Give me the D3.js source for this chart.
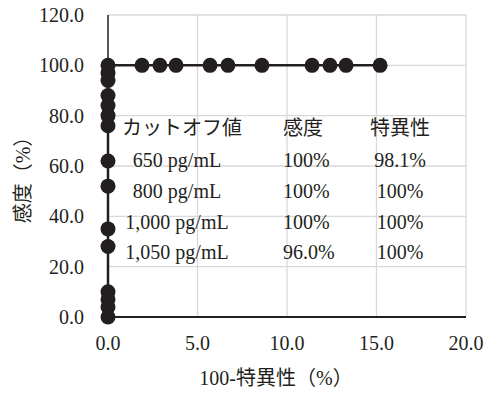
<!DOCTYPE html>
<html>
<head>
<meta charset="utf-8">
<script src="https://cdn.jsdelivr.net/npm/d3@7"></script>
<style>
  body { margin: 0; background: #fff; }
  svg text { font-family: "Liberation Serif", "Noto Sans CJK JP", serif; fill: #231f20; }
</style>
</head>
<body>
<svg id="chart" width="486" height="394"></svg>
<script>
// ROC curve points (100-specificity, sensitivity)
const fprValues = [0, 0, 0, 0, 0, 0, 0, 0, 0, 0, 0, 0, 0, 0, 0,
  1.9, 2.9, 3.8, 5.7, 6.7, 8.6, 11.4, 12.4, 13.3, 15.2];
const sensValues = [0, 4, 7, 10, 28, 35, 52, 62, 76, 80, 84, 88, 94, 97, 100,
  100, 100, 100, 100, 100, 100, 100, 100, 100, 100];

const xTicks = [0, 5, 10, 15, 20];
const yTicks = [0, 20, 40, 60, 80, 100, 120];

// table inside the plot
const tableHeader = ["カットオフ値", "感度", "特異性"];
const cutoffs = ["650 pg/mL", "800 pg/mL", "1,000 pg/mL", "1,050 pg/mL"];
const sensLabels = ["100%", "100%", "100%", "96.0%"];
const specLabels = ["98.1%", "100%", "100%", "100%"];

const svg = d3.select("#chart"),
  ink = "#231f20",
  grid = "#d9d9d9";

const x = d3.scaleLinear().domain([0, 20]).range([108, 466]);
const y = d3.scaleLinear().domain([0, 120]).range([317, 15]);

// gridlines
svg.append("g")
  .selectAll("line.h")
  .data(yTicks.filter((d) => d > 0))
  .enter()
  .append("line")
  .attr("x1", x(0))
  .attr("x2", x(20))
  .attr("y1", (d) => y(d))
  .attr("y2", (d) => y(d))
  .attr("stroke", grid)
  .attr("stroke-width", 1.3);

svg.append("g")
  .selectAll("line.v")
  .data(xTicks.filter((d) => d > 0))
  .enter()
  .append("line")
  .attr("x1", (d) => x(d))
  .attr("x2", (d) => x(d))
  .attr("y1", y(0))
  .attr("y2", y(120))
  .attr("stroke", grid)
  .attr("stroke-width", 1.3);

// axes lines
svg.append("line")
  .attr("x1", x(0)).attr("x2", x(20))
  .attr("y1", y(0)).attr("y2", y(0))
  .attr("stroke", ink).attr("stroke-width", 2);
svg.append("line")
  .attr("x1", x(0)).attr("x2", x(0))
  .attr("y1", y(0)).attr("y2", y(120))
  .attr("stroke", ink).attr("stroke-width", 1.5);

// tick labels
svg.append("g")
  .selectAll("text")
  .data(yTicks)
  .enter()
  .append("text")
  .attr("x", 84)
  .attr("y", (d) => y(d))
  .attr("dy", "0.35em")
  .attr("text-anchor", "end")
  .style("font-size", "20px")
  .text((d) => d.toFixed(1));

svg.append("g")
  .selectAll("text")
  .data(xTicks)
  .enter()
  .append("text")
  .attr("x", (d) => x(d))
  .attr("y", 350)
  .attr("text-anchor", "middle")
  .style("font-size", "20px")
  .text((d) => d.toFixed(1));

// axis titles
svg.append("text")
  .attr("x", 276)
  .attr("y", 385)
  .attr("text-anchor", "middle")
  .style("font-size", "20px")
  .text("100-特異性（%）");

svg.append("text")
  .attr("transform", "translate(30,175) rotate(-90)")
  .attr("text-anchor", "middle")
  .style("font-size", "20px")
  .text("感度（%）");

// table text
const rowY = [128, 160, 191, 222, 252];
const tbl = svg.append("g").style("font-size", "20px");
tbl.append("text").attr("x", 122).attr("y", rowY[0]).attr("dy", "0.35em").text(tableHeader[0]);
tbl.append("text").attr("x", 283).attr("y", rowY[0]).attr("dy", "0.35em").text(tableHeader[1]);
tbl.append("text").attr("x", 370).attr("y", rowY[0]).attr("dy", "0.35em").text(tableHeader[2]);

tbl.selectAll("text.cut")
  .data(cutoffs)
  .enter()
  .append("text")
  .attr("x", 177)
  .attr("y", (d, i) => rowY[i + 1])
  .attr("dy", "0.35em")
  .attr("text-anchor", "middle")
  .text((d) => d);
tbl.selectAll("text.sens")
  .data(sensLabels)
  .enter()
  .append("text")
  .attr("x", 283)
  .attr("y", (d, i) => rowY[i + 1])
  .attr("dy", "0.35em")
  .text((d) => d);
tbl.selectAll("text.spec")
  .data(specLabels)
  .enter()
  .append("text")
  .attr("x", 400)
  .attr("y", (d, i) => rowY[i + 1])
  .attr("dy", "0.35em")
  .attr("text-anchor", "middle")
  .text((d) => d);

// series
const pts = fprValues.map((v, i) => [v, sensValues[i]]);
const line = d3.line().x((d) => x(d[0])).y((d) => y(d[1]));
svg.append("path")
  .datum(pts)
  .attr("d", line)
  .attr("fill", "none")
  .attr("stroke", ink)
  .attr("stroke-width", 2.5);

svg.append("g")
  .selectAll("circle")
  .data(pts)
  .enter()
  .append("circle")
  .attr("cx", (d) => x(d[0]))
  .attr("cy", (d) => y(d[1]))
  .attr("r", 7.5)
  .attr("fill", ink);
</script>
</body>
</html>
